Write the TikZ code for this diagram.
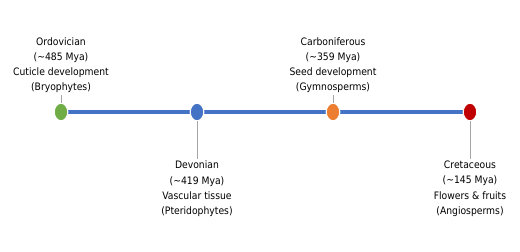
\documentclass[tikz,border=0pt]{standalone}
\usepackage{fontspec}
\setmainfont{DejaVu Sans Condensed}
\usepackage{xcolor}
\usetikzlibrary{positioning,shapes.geometric,backgrounds}
\definecolor{axisblue}{HTML}{4472C4}
\definecolor{ordgreen}{HTML}{70AD47}
\definecolor{carborange}{HTML}{ED7D31}
\definecolor{cretred}{HTML}{C00000}
\definecolor{tickgrey}{HTML}{A6A6A6}

\begin{document}
\begin{tikzpicture}[
    dot/.style={ellipse, draw=white, thick, minimum width=0.34cm, minimum height=0.44cm, inner sep=0pt},
    era/.style={align=center, font=\fontsize{7.3}{10.8}\selectfont, inner sep=1pt},
    tick/.style={draw=tickgrey, thin}
]
    \useasboundingbox (0,0) rectangle (13,6.3);

    \node[dot, fill=ordgreen] (ord) at (1.525,3.5) {};
    \node[dot, fill=axisblue] (dev) at (4.925,3.5) {};
    \node[dot, fill=carborange] (carb) at (8.325,3.5) {};
    \node[dot, fill=cretred] (cret) at (11.75,3.5) {};

    \begin{pgfonlayer}{background}
        \draw[axisblue, line width=1.1mm] (ord.center) -- (cret.center);
    \end{pgfonlayer}

    \node[era, above=0.2cm of ord] (ordlbl) {Ordovician\\(\textasciitilde485 Mya)\\Cuticle development\\(Bryophytes)};
    \node[era, below=0.95cm of dev] (devlbl) {Devonian\\(\textasciitilde419 Mya)\\Vascular tissue\\(Pteridophytes)};
    \node[era, above=0.2cm of carb] (carblbl) {Carboniferous\\(\textasciitilde359 Mya)\\Seed development\\(Gymnosperms)};
    \node[era, below=0.95cm of cret] (cretlbl) {Cretaceous\\(\textasciitilde145 Mya)\\Flowers \& fruits\\(Angiosperms)};

    \draw[tick] (ord) -- (ordlbl);
    \draw[tick] (dev) -- (devlbl);
    \draw[tick] (carb) -- (carblbl);
    \draw[tick] (cret) -- (cretlbl);
\end{tikzpicture}
\end{document}
